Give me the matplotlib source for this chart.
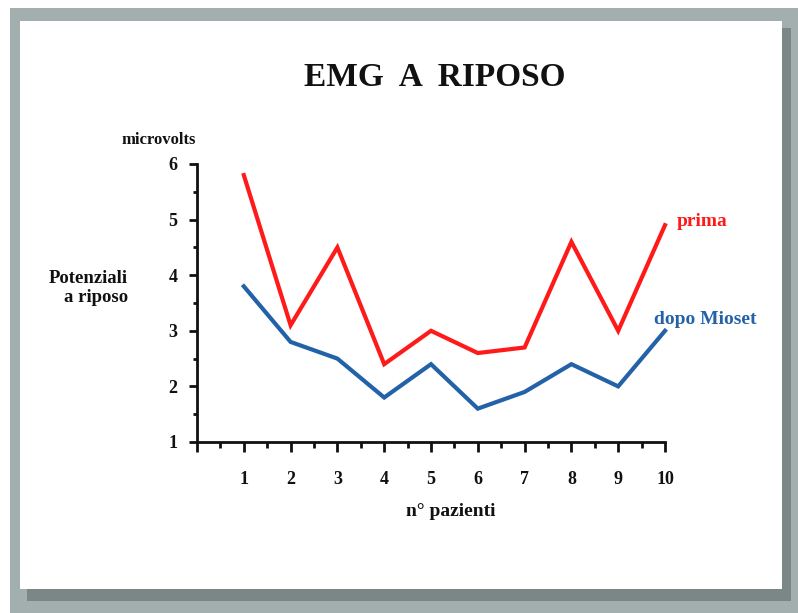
import matplotlib
matplotlib.use("Agg")
import matplotlib.pyplot as plt
from matplotlib.patches import Rectangle
from matplotlib.ticker import MultipleLocator

patients = [1, 2, 3, 4, 5, 6, 7, 8, 9, 10]
prima = [5.8, 3.1, 4.5, 2.4, 3.0, 2.6, 2.7, 4.6, 3.0, 4.9]
dopo = [3.8, 2.8, 2.5, 1.8, 2.4, 1.6, 1.9, 2.4, 2.0, 3.0]
x_ticks = list(range(0, 11))
x_labels = [""] + [str(i) for i in range(1, 11)]
y_ticks = [1, 2, 3, 4, 5, 6]

W, H = 798, 613
fig = plt.figure(figsize=(W / 100, H / 100), dpi=100)
fig.patch.set_facecolor("white")

def px_rect(x0, y0, x1, y1, color):
    fig.patches.append(Rectangle((x0 / W, 1 - y1 / H), (x1 - x0) / W, (y1 - y0) / H,
                                 transform=fig.transFigure, facecolor=color,
                                 edgecolor="none", zorder=-10))

px_rect(10, 8, 798, 613, "#a3afaf")
px_rect(27, 28, 791, 601, "#7b8686")
px_rect(20, 21, 782, 589, "white")

serif = ["Liberation Serif", "DejaVu Serif"]

ax = fig.add_axes([197 / W, 1 - 442 / H, 468 / W, 278 / H])
ax.set_zorder(5)
ax.set_facecolor("none")
ax.plot(patients, prima, color="#ff1a1a", lw=3.0, solid_joinstyle="miter", zorder=3, clip_on=False)
ax.plot(patients, dopo, color="#2462a8", lw=3.0, solid_joinstyle="miter", zorder=3, clip_on=False)
ax.set_xlim(0, 10)
ax.set_ylim(1, 6)
for s in ["top", "right"]:
    ax.spines[s].set_visible(False)
for s in ["left", "bottom"]:
    ax.spines[s].set_linewidth(2.0)
    ax.spines[s].set_color("#111111")
ax.set_xticks(x_ticks)
ax.set_xticklabels(x_labels)
ax.set_yticks(y_ticks)
ax.xaxis.set_minor_locator(MultipleLocator(0.5))
ax.yaxis.set_minor_locator(MultipleLocator(0.5))
ax.tick_params(axis="x", which="major", direction="out", length=7, width=2,
               color="#111111", pad=14)
ax.tick_params(axis="x", which="minor", direction="out", length=4, width=2, color="#111111")
ax.tick_params(axis="y", which="major", direction="out", length=6, width=2,
               color="#111111", pad=8)
ax.tick_params(axis="y", which="minor", direction="out", length=3, width=2, color="#111111")
for lab in ax.get_xticklabels() + ax.get_yticklabels():
    lab.set_fontfamily(serif)
    lab.set_fontweight("bold")
    lab.set_fontsize(13)
    lab.set_color("#111111")

def ftxt(x, y, s, **kw):
    fig.text(x / W, 1 - y / H, s, family=serif, fontweight="bold", **kw)

ftxt(435, 78, "EMG  A  RIPOSO", fontsize=24, ha="center", va="center", color="#111111")
ftxt(159, 140, "microvolts", fontsize=12, ha="center", va="center", color="#111111")
ftxt(128, 288, "Potenziali\na riposo", fontsize=13.5, ha="right", va="center",
     color="#111111", multialignment="right", linespacing=1.15)
ftxt(451, 511, "n° pazienti", fontsize=14, ha="center", va="center", color="#111111")
ftxt(677, 222, "prima", fontsize=14, ha="left", va="center", color="#ff1a1a")
ftxt(654, 320, "dopo Mioset", fontsize=14, ha="left", va="center", color="#2462a8")

fig.savefig("out.png", dpi=100)
